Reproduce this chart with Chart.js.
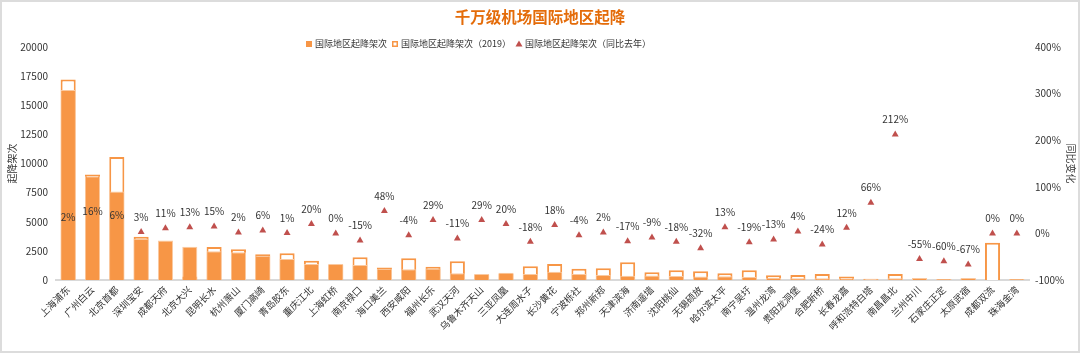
<!DOCTYPE html>
<html>
<head>
<meta charset="utf-8">
<script src="https://cdn.jsdelivr.net/npm/chart.js@4/dist/chart.umd.min.js"></script>
<style>
  html, body { margin: 0; padding: 0; background: #fff; }
  #wrap { position: relative; width: 1080px; height: 353px; }
</style>
</head>
<body>
<div id="wrap"><canvas id="c"></canvas></div>
<script>
// 千万级机场国际地区起降 — combo chart: current bars over 2019 outline bars, YoY triangles on right axis

const AIRPORTS = ['上海浦东', '广州白云', '北京首都', '深圳宝安', '成都天府', '北京大兴', '昆明长水', '杭州萧山',
  '厦门高崎', '青岛胶东', '重庆江北', '上海虹桥', '南京禄口', '海口美兰', '西安咸阳', '福州长乐', '武汉天河',
  '乌鲁木齐天山', '三亚凤凰', '大连周水子', '长沙黄花', '宁波栎社', '郑州新郑', '天津滨海', '济南遥墙',
  '沈阳桃仙', '无锡硕放', '哈尔滨太平', '南宁吴圩', '温州龙湾', '贵阳龙洞堡', '合肥新桥', '长春龙嘉',
  '呼和浩特白塔', '南昌昌北', '兰州中川', '石家庄正定', '太原武宿', '成都双流', '珠海金湾'];

// 国际地区起降架次 (current)
const FLIGHTS = [16300, 8900, 7600, 3550, 3400, 2850, 2460, 2380, 2080, 1800, 1370, 1370, 1290, 960, 920,
  980, 570, 520, 630, 515, 715, 515, 430, 370, 380, 340, 290, 330, 260, 200, 140, 140, 150, 60, 140,
  170, 80, 180, 10, 80];

// 国际地区起降架次（2019）
const FLIGHTS_2019 = [17200, 9050, 10550, 3720, 0, 300, 2830, 2630, 2220, 2290, 1660, 1300, 1950, 1080, 1860,
  1130, 1600, 450, 550, 1170, 1370, 970, 1000, 1520, 660, 830, 745, 570, 830, 400, 430, 515, 290, 100, 515,
  120, 60, 150, 3200, 60];

// 同比去年 (%)
const YOY = [2, 16, 6, 3, 11, 13, 15, 2, 6, 1, 20, 0, -15, 48, -4, 29, -11, 29, 20, -18, 18, -4, 2, -17, -9,
  -18, -32, 13, -19, -13, 4, -24, 12, 66, 212, -55, -60, -67, 0, 0];

const LEFT_TICKS = [0, 2500, 5000, 7500, 10000, 12500, 15000, 17500, 20000];
const RIGHT_TICKS = [-100, 0, 100, 200, 300, 400];

const ORANGE = '#F79646';
const RED = '#C0504D';
const TEXT = '#333333';
const FONT = "'Noto Sans CJK SC', 'Noto Sans', sans-serif";

Chart.defaults.font.family = FONT;
Chart.defaults.font.size = 10;
Chart.defaults.color = TEXT;

// labels above the triangles
const yoyLabels = {
  id: 'yoyLabels',
  afterDatasetsDraw(chart) {
    const meta = chart.getDatasetMeta(2);
    const ctx = chart.ctx;
    ctx.save();
    ctx.font = '10px ' + FONT;
    ctx.fillStyle = TEXT;
    ctx.textAlign = 'center';
    ctx.textBaseline = 'middle';
    meta.data.forEach((pt, i) => {
      ctx.fillText(YOY[i] + '%', pt.x, pt.y - 15);
    });
    ctx.restore();
  }
};

// legend row under the title (drawn by hand so it can sit tight on the plot)
const topLegend = {
  id: 'topLegend',
  afterDraw(chart) {
    const ctx = chart.ctx;
    const names = chart.data.datasets.map(d => d.label);
    const y = 44;
    let x = 306;
    ctx.save();
    ctx.font = '9px ' + FONT;
    ctx.textBaseline = 'middle';
    ctx.textAlign = 'left';
    names.forEach((name, i) => {
      if (i === 0) {
        ctx.fillStyle = ORANGE;
        ctx.fillRect(x, y - 3, 6, 6);
      } else if (i === 1) {
        ctx.strokeStyle = ORANGE;
        ctx.lineWidth = 1.5;
        ctx.strokeRect(x + 0.75, y - 2.25, 4.5, 4.5);
      } else {
        ctx.fillStyle = RED;
        ctx.beginPath();
        ctx.moveTo(x + 3, y - 3.5);
        ctx.lineTo(x + 6.5, y + 2.5);
        ctx.lineTo(x - 0.5, y + 2.5);
        ctx.closePath();
        ctx.fill();
      }
      x += 9;
      ctx.fillStyle = TEXT;
      ctx.fillText(name, x, y);
      x += ctx.measureText(name).width + 5;
    });
    ctx.restore();
  }
};

// white background and thin grey frame round the picture
const frame = {
  id: 'frame',
  beforeDraw(chart) {
    const ctx = chart.ctx;
    ctx.save();
    ctx.fillStyle = '#fff';
    ctx.fillRect(0, 0, chart.width, chart.height);
    ctx.restore();
  },
  afterDraw(chart) {
    const ctx = chart.ctx;
    ctx.save();
    ctx.strokeStyle = '#dcdcdc';
    ctx.lineWidth = 2;
    ctx.strokeRect(1, 1, chart.width - 2, chart.height - 2);
    ctx.restore();
  }
};

new Chart(document.getElementById('c'), {
  data: {
    labels: AIRPORTS,
    datasets: [
      {
        type: 'bar',
        label: '国际地区起降架次',
        data: FLIGHTS,
        backgroundColor: ORANGE,
        borderColor: '#FAC9A0',
        borderWidth: 1,
        grouped: false,
        categoryPercentage: 0.62,
        barPercentage: 1,
        yAxisID: 'y'
      },
      {
        type: 'bar',
        label: '国际地区起降架次（2019）',
        data: FLIGHTS_2019,
        backgroundColor: '#ffffff',
        borderColor: ORANGE,
        borderWidth: 2,
        grouped: false,
        categoryPercentage: 0.62,
        barPercentage: 1,
        yAxisID: 'y'
      },
      {
        type: 'line',
        label: '国际地区起降架次（同比去年）',
        data: YOY,
        showLine: false,
        pointStyle: 'triangle',
        pointRadius: 4,
        pointBackgroundColor: RED,
        pointBorderColor: RED,
        pointBorderWidth: 0,
        yAxisID: 'y1'
      }
    ]
  },
  options: {
    responsive: true,
    maintainAspectRatio: false,
    animation: false,
    layout: { padding: 0 },
    plugins: {
      title: {
        display: true,
        text: '千万级机场国际地区起降',
        color: '#E46C0A',
        font: { size: 15.5, weight: 'bold' },
        padding: { top: 8, bottom: 20.4 }
      },
      legend: { display: false },
      tooltip: { enabled: false }
    },
    scales: {
      x: {
        offset: true,
        grid: { display: false, drawTicks: false },
        border: { display: true, color: '#d9d9d9', width: 2 },
        ticks: {
          autoSkip: false,
          maxRotation: 45,
          minRotation: 45,
          padding: 4,
          color: TEXT,
          font: { size: 9.5 }
        },
        afterFit: s => { s.height = 73; }
      },
      y: {
        position: 'left',
        min: 0,
        max: 20000,
        afterBuildTicks: s => { s.ticks = LEFT_TICKS.map(v => ({ value: v })); },
        grid: { display: false, drawTicks: false },
        border: { display: false },
        ticks: { padding: 8, color: TEXT, font: { size: 10 }, callback: v => String(v) },
        title: { display: true, text: '起降架次', color: TEXT, font: { size: 10 }, padding: { top: 6, bottom: 0 } },
        afterFit: s => { s.width = 56; }
      },
      y1: {
        position: 'right',
        min: -100,
        max: 400,
        afterBuildTicks: s => { s.ticks = RIGHT_TICKS.map(v => ({ value: v })); },
        grid: { display: false, drawTicks: false },
        border: { display: false },
        ticks: { padding: 6, color: TEXT, font: { size: 10 }, callback: v => v + '%' },
        title: { display: true, text: '同比变化', color: TEXT, font: { size: 10 }, padding: { top: 3, bottom: 0 } },
        afterFit: s => { s.width = 51; }
      }
    }
  },
  plugins: [yoyLabels, topLegend, frame]
});
</script>
</body>
</html>
